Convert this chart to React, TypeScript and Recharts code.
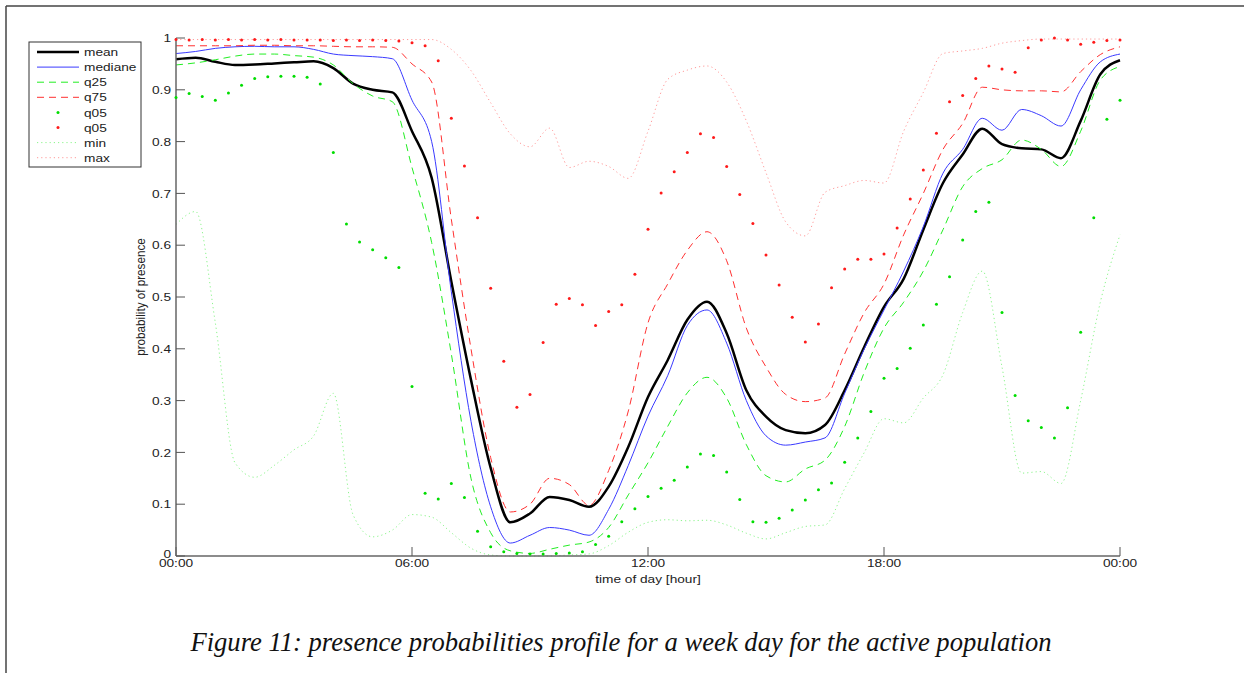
import React from 'react';
import { LineChart, Line, XAxis, YAxis } from 'recharts';

// half-hour grid for the curves, 20 minute grid for the q05 markers
const hours = Array.from({ length: 49 }, (_, i) => i / 2);
const dotHours = Array.from({ length: 73 }, (_, i) => i / 3);

const xTicks = [0, 6, 12, 18, 24];
const xTickLabels = ['00:00', '06:00', '12:00', '18:00', '00:00'];
const yTicks = [0, 0.1, 0.2, 0.3, 0.4, 0.5, 0.6, 0.7, 0.8, 0.9, 1];
const yTickLabels = ['0', '0.1', '0.2', '0.3', '0.4', '0.5', '0.6', '0.7', '0.8', '0.9', '1'];

const mean = [
  0.959, 0.962, 0.954, 0.948, 0.949, 0.951, 0.953, 0.955, 0.942, 0.912, 0.9, 0.895,
  0.82, 0.73, 0.53, 0.34, 0.17, 0.065, 0.082, 0.114, 0.108, 0.095, 0.134, 0.211,
  0.307, 0.378, 0.456, 0.491, 0.43, 0.32, 0.269, 0.243, 0.237, 0.253, 0.32, 0.404,
  0.481, 0.535, 0.63, 0.72, 0.775, 0.825, 0.795, 0.787, 0.785, 0.768, 0.84, 0.93, 0.957,
];
const mediane = [
  0.97, 0.974, 0.98, 0.983, 0.984, 0.983, 0.983, 0.978, 0.969, 0.966, 0.964, 0.96,
  0.88, 0.8, 0.51, 0.26, 0.095, 0.025, 0.04, 0.055, 0.05, 0.04, 0.09, 0.175,
  0.27, 0.348, 0.445, 0.475, 0.411, 0.3, 0.232, 0.214, 0.22, 0.228, 0.314, 0.4,
  0.475, 0.55, 0.636, 0.739, 0.785, 0.845, 0.822, 0.862, 0.85, 0.83, 0.9, 0.954, 0.969,
];
const q25 = [
  0.948, 0.952, 0.958, 0.965, 0.969, 0.969, 0.966, 0.963, 0.948, 0.912, 0.888, 0.877,
  0.75, 0.605, 0.39, 0.15, 0.045, 0.01, 0.005, 0.013, 0.021, 0.027, 0.055, 0.118,
  0.18, 0.25, 0.315, 0.345, 0.305, 0.215, 0.155, 0.143, 0.168, 0.185, 0.25, 0.355,
  0.44, 0.49, 0.55, 0.63, 0.713, 0.748, 0.765, 0.803, 0.785, 0.752, 0.82, 0.919, 0.945,
];
const q75 = [
  0.985, 0.985, 0.985, 0.985, 0.986, 0.986, 0.985, 0.985, 0.984, 0.983, 0.983, 0.982,
  0.95, 0.915, 0.65, 0.4, 0.19, 0.085, 0.1, 0.15, 0.138, 0.098, 0.165, 0.28,
  0.45, 0.525, 0.59, 0.626, 0.57, 0.44, 0.365, 0.312, 0.298, 0.305, 0.39, 0.47,
  0.525, 0.62, 0.7, 0.785, 0.835, 0.905, 0.9, 0.898, 0.898, 0.896, 0.935, 0.968, 0.983,
];
const minP = [
  0.64, 0.665, 0.45, 0.18, 0.152, 0.175, 0.205, 0.232, 0.314, 0.08, 0.037, 0.05,
  0.08, 0.075, 0.045, 0.015, 0.002, 0, 0, 0, 0.002, 0.004, 0.02, 0.046,
  0.065, 0.07, 0.068, 0.069, 0.06, 0.044, 0.033, 0.045, 0.057, 0.06, 0.13, 0.2,
  0.265, 0.257, 0.305, 0.35, 0.47, 0.55, 0.365, 0.16, 0.163, 0.14, 0.3, 0.49, 0.62,
];
const maxP = [
  0.997, 0.997, 0.997, 0.997, 0.997, 0.997, 0.997, 0.997, 0.997, 0.997, 0.997, 0.997,
  0.997, 0.997, 0.978, 0.937, 0.875, 0.815, 0.79, 0.826, 0.75, 0.762, 0.752, 0.729,
  0.82, 0.92, 0.938, 0.946, 0.915, 0.84, 0.74, 0.645, 0.618, 0.702, 0.715, 0.725,
  0.72, 0.82, 0.895, 0.97, 0.975, 0.98, 0.99, 0.995, 0.998, 0.998, 0.998, 0.998, 0.998,
];
const q05Low = [
  0.885, 0.893, 0.887, 0.88, 0.894, 0.909, 0.922, 0.925, 0.926, 0.926, 0.924, 0.911,
  0.779, 0.641, 0.606, 0.591, 0.576, 0.557, 0.327, 0.121, 0.11, 0.14, 0.113, 0.048,
  0.018, 0.008, 0.005, 0.004, 0.004, 0.005, 0.006, 0.008, 0.022, 0.038, 0.066, 0.091,
  0.115, 0.131, 0.146, 0.172, 0.197, 0.194, 0.162, 0.109, 0.066, 0.065, 0.073, 0.089,
  0.108, 0.128, 0.141, 0.181, 0.228, 0.279, 0.343, 0.362, 0.401, 0.446, 0.486, 0.539,
  0.61, 0.665, 0.683, 0.47, 0.31, 0.261, 0.248, 0.228, 0.286, 0.432, 0.653, 0.843, 0.88,
];
const q05High = [
  0.997, 0.996, 0.997, 0.996, 0.997, 0.996, 0.997, 0.996, 0.997, 0.996, 0.996, 0.996,
  0.995, 0.996, 0.995, 0.996, 0.995, 0.994, 0.991, 0.985, 0.956, 0.845, 0.753, 0.653,
  0.517, 0.376, 0.287, 0.312, 0.412, 0.486, 0.497, 0.485, 0.445, 0.472, 0.485, 0.544,
  0.631, 0.701, 0.742, 0.779, 0.815, 0.808, 0.752, 0.698, 0.642, 0.581, 0.523, 0.461,
  0.413, 0.448, 0.518, 0.554, 0.573, 0.573, 0.583, 0.633, 0.689, 0.745, 0.816, 0.877,
  0.889, 0.922, 0.946, 0.94, 0.934, 0.981, 0.996, 1.0, 0.996, 0.988, 0.992, 0.995, 0.996,
];

const pts = (ts: number[], vs: number[]) => ts.map((t, i) => ({ t, v: vs[i] }));

const FONT = '"Liberation Sans", Arial, Helvetica, sans-serif';
const SX = 1.37;
const SY = 1.17;

const legendItems = [
  { name: 'mean', kind: 'line', color: '#000', width: 2.5, dash: undefined },
  { name: 'mediane', kind: 'line', color: '#3a3aff', width: 1, dash: undefined },
  { name: 'q25', kind: 'line', color: '#22ee22', width: 1, dash: '7 5' },
  { name: 'q75', kind: 'line', color: '#ff3030', width: 1, dash: '7 5' },
  { name: 'q05', kind: 'dot', color: '#00dd00', width: 1, dash: undefined },
  { name: 'q05', kind: 'dot', color: '#ff1a1a', width: 1, dash: undefined },
  { name: 'min', kind: 'line', color: '#8cf58c', width: 1, dash: '1.2 3' },
  { name: 'max', kind: 'line', color: '#ff9a9a', width: 1, dash: '1.2 3' },
];

const XTick = ({ x, y, payload }: any) => (
  <g transform={`translate(${x},${y}) scale(${SX},${SY})`}>
    <text textAnchor="middle" dy="0.71em" fontSize={10} fill="#222" fontFamily={FONT}>
      {xTickLabels[xTicks.indexOf(payload.value)]}
    </text>
  </g>
);

const YTick = ({ x, y, payload }: any) => (
  <g transform={`translate(${x},${payload.value === 0 ? y - 2 : y}) scale(${SX},${SY})`}>
    <text textAnchor="end" dy="0.35em" fontSize={10} fill="#222" fontFamily={FONT}>
      {yTickLabels[yTicks.indexOf(payload.value)]}
    </text>
  </g>
);

export default function App() {
  return (
    <div style={{ position: 'absolute', left: 0, top: 0, width: 1244, height: 673, background: '#fff', overflow: 'hidden' }}>
      <LineChart width={1244} height={600} margin={{ top: 38, right: 124, bottom: 12, left: 0 }}>
        <XAxis
          type="number"
          dataKey="t"
          domain={[0, 24]}
          ticks={xTicks}
          height={32}
          tickSize={-9}
          tickMargin={12}
          tick={<XTick />}
          axisLine={{ stroke: '#666', strokeWidth: 1.5 }}
          tickLine={{ stroke: '#555' }}
        />
        <YAxis
          type="number"
          domain={[0, 1]}
          ticks={yTicks}
          width={176}
          tickSize={-9}
          tickMargin={14}
          tick={<YTick />}
          axisLine={{ stroke: '#666', strokeWidth: 1.5 }}
          tickLine={{ stroke: '#555' }}
        />
        <Line data={pts(hours, mean)} dataKey="v" type="monotone" stroke="#000" strokeWidth={2.5} dot={false} activeDot={false} isAnimationActive={false} />
        <Line data={pts(hours, mediane)} dataKey="v" type="monotone" stroke="#3a3aff" strokeWidth={1} dot={false} activeDot={false} isAnimationActive={false} />
        <Line data={pts(hours, q25)} dataKey="v" type="monotone" stroke="#22ee22" strokeWidth={1} strokeDasharray="7 5" dot={false} activeDot={false} isAnimationActive={false} />
        <Line data={pts(hours, q75)} dataKey="v" type="monotone" stroke="#ff3030" strokeWidth={1} strokeDasharray="7 5" dot={false} activeDot={false} isAnimationActive={false} />
        <Line data={pts(dotHours, q05Low)} dataKey="v" stroke="none" dot={{ r: 1.5, fill: '#00dd00', stroke: 'none' }} activeDot={false} isAnimationActive={false} />
        <Line data={pts(dotHours, q05High)} dataKey="v" stroke="none" dot={{ r: 1.5, fill: '#ff1a1a', stroke: 'none' }} activeDot={false} isAnimationActive={false} />
        <Line data={pts(hours, minP)} dataKey="v" type="monotone" stroke="#8cf58c" strokeWidth={1} strokeDasharray="1.2 3" dot={false} activeDot={false} isAnimationActive={false} />
        <Line data={pts(hours, maxP)} dataKey="v" type="monotone" stroke="#ff9a9a" strokeWidth={1} strokeDasharray="1.2 3" dot={false} activeDot={false} isAnimationActive={false} />
      </LineChart>

      <svg width={1244} height={673} style={{ position: 'absolute', left: 0, top: 0, pointerEvents: 'none' }}>
        {/* page frame */}
        <line x1={6} y1={6} x2={1244} y2={6} stroke="#444" strokeWidth={1.5} />
        <line x1={6} y1={6} x2={6} y2={673} stroke="#444" strokeWidth={1.5} />

        {/* axis titles */}
        <g transform={`translate(648,575) scale(${SX},${SY})`}>
          <text textAnchor="middle" dy="0.71em" fontSize={10} fill="#222" fontFamily={FONT}>time of day [hour]</text>
        </g>
        <g transform={`translate(140,297) rotate(-90) scale(${SY},${SX})`}>
          <text textAnchor="middle" dy="0.35em" fontSize={10} fill="#222" fontFamily={FONT}>probability of presence</text>
        </g>

        {/* legend */}
        <rect x={29} y={42} width={112} height={125} fill="#fff" stroke="#333" strokeWidth={1} />
        {legendItems.map((it, i) => {
          const cy = 52 + i * 15.1;
          return (
            <g key={i}>
              {it.kind === 'line' ? (
                <line x1={37} y1={cy} x2={79} y2={cy} stroke={it.color} strokeWidth={it.width} strokeDasharray={it.dash} />
              ) : (
                <circle cx={58} cy={cy} r={1.5} fill={it.color} />
              )}
              <g transform={`translate(84,${cy}) scale(${SX},${SY})`}>
                <text dy="0.35em" fontSize={10} fill="#222" fontFamily={FONT}>{it.name}</text>
              </g>
            </g>
          );
        })}

        {/* caption */}
        <text x={621} y={651} textAnchor="middle" fontSize={26.6} fontStyle="italic" fill="#111" fontFamily='"Liberation Serif", "Times New Roman", serif'>
          Figure 11: presence probabilities profile for a week day for the active population
        </text>
      </svg>
    </div>
  );
}
